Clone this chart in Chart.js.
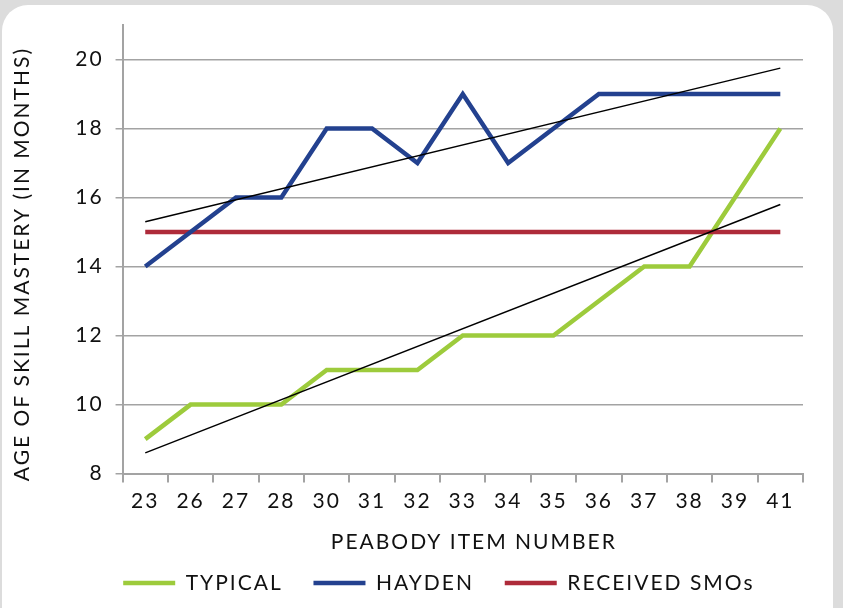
<!DOCTYPE html>
<html>
<head>
<meta charset="utf-8">
<script src="https://cdn.jsdelivr.net/npm/chart.js@4"></script>
<style>
    html, body { margin: 0; padding: 0; background: #dcdcdc; }
    body { width: 843px; height: 608px; overflow: hidden; position: relative; }
    .card {
        position: absolute; left: 2px; top: 5px; width: 831px; height: 640px;
        background: #fff; border-radius: 26px;
    }
    #wrap { position: absolute; left: 0; top: 0; width: 843px; height: 608px; }
</style>
</head>
<body>
<div class="card"></div>
<div id="wrap"><canvas id="chart"></canvas></div>
<script>
// Peabody items on the x axis
const items = ['23', '26', '27', '28', '30', '31', '32', '33', '34', '35', '36', '37', '38', '39', '41'];

// Age of mastery (months)
const typical = [9, 10, 10, 10, 11, 11, 11, 12, 12, 12, 13, 14, 14, 16, 18];
const hayden = [14, 15, 16, 16, 18, 18, 17, 19, 17, 18, 19, 19, 19, 19, 19];
const receivedSMOs = [15, 15, 15, 15, 15, 15, 15, 15, 15, 15, 15, 15, 15, 15, 15];

// Trend line ends (first item, last item)
const haydenTrend = [15.3, 19.75];
const typicalTrend = [8.6, 15.8];

const yTicks = [8, 10, 12, 14, 16, 18, 20];

const colorGreen = '#9dcb3c';
const colorBlue = '#23418f';
const colorRed = '#ae2b3a';
const colorAxis = '#a3a3a3';
const fontFamily = 'Lato, "Open Sans", sans-serif';
const textFont = { family: fontFamily, size: 21 };

// line from first to last item, gaps in between
const trendData = (ends) => items.map((_, i) => i === 0 ? ends[0] : (i === items.length - 1 ? ends[1] : null));

// wider tracking on the text, legend nudged right like the original
const tweaks = {
    id: 'tweaks',
    beforeLayout: (chart) => { chart.ctx.letterSpacing = '2px'; },
    afterLayout: (chart) => {
        chart.legend.left += 40;
        chart.legend.right += 40;
    },
    beforeDraw: (chart) => { chart.ctx.letterSpacing = '2px'; }
};

new Chart(document.getElementById('chart'), {
    type: 'line',
    data: {
        labels: items,
        datasets: [
            { label: 'TYPICAL', data: typical, borderColor: colorGreen, backgroundColor: colorGreen, borderWidth: 4.5, order: 4 },
            { label: 'HAYDEN', data: hayden, borderColor: colorBlue, backgroundColor: colorBlue, borderWidth: 4.5, order: 2 },
            { label: 'RECEIVED SMOs', data: receivedSMOs, borderColor: colorRed, backgroundColor: colorRed, borderWidth: 4.5, order: 3 },
            { label: '', data: trendData(haydenTrend), borderColor: '#000', borderWidth: 1.5, spanGaps: true, order: 0 },
            { label: '', data: trendData(typicalTrend), borderColor: '#000', borderWidth: 1.5, spanGaps: true, order: 0 }
        ]
    },
    options: {
        responsive: true,
        maintainAspectRatio: false,
        animation: false,
        elements: {
            point: { radius: 0, hoverRadius: 0 },
            line: { tension: 0, borderCapStyle: 'butt', borderJoinStyle: 'miter' }
        },
        layout: { padding: { top: 25, right: 40, left: 9.5, bottom: 4.5 } },
        plugins: {
            tooltip: { enabled: false },
            legend: {
                position: 'bottom',
                labels: {
                    filter: (item) => item.text !== '',
                    sort: (a, b) => a.datasetIndex - b.datasetIndex,
                    // trailing spaces widen the gap between entries
                    generateLabels: (chart) => Chart.defaults.plugins.legend.labels.generateLabels(chart)
                        .map(l => ({ ...l, text: l.text ? l.text + '  ' : '' })),
                    usePointStyle: true,
                    pointStyle: 'line',
                    pointStyleWidth: 52,
                    padding: 16,
                    color: '#111',
                    font: textFont
                }
            }
        },
        scales: {
            x: {
                offset: true,
                grid: {
                    offset: true,
                    drawOnChartArea: false,
                    color: colorAxis,
                    lineWidth: 2,
                    tickLength: 9
                },
                border: { color: colorAxis, width: 2 },
                ticks: { color: '#111', padding: 6, maxRotation: 0, font: textFont },
                title: {
                    display: true,
                    text: '   PEABODY ITEM NUMBER',
                    color: '#111',
                    padding: { top: 9.5, bottom: 2 },
                    font: textFont
                }
            },
            y: {
                min: 8,
                max: 21,
                afterBuildTicks: (scale) => { scale.ticks = yTicks.map(v => ({ value: v })); },
                grid: { color: colorAxis, lineWidth: 1.5, tickLength: 7 },
                border: { color: colorAxis, width: 2 },
                ticks: { color: '#111', padding: 12, font: textFont },
                title: {
                    display: true,
                    text: 'AGE OF SKILL MASTERY (IN MONTHS)    ',
                    color: '#111',
                    padding: { top: 0, bottom: 28.5 },
                    font: textFont
                }
            }
        }
    },
    plugins: [tweaks]
});
</script>
</body>
</html>
